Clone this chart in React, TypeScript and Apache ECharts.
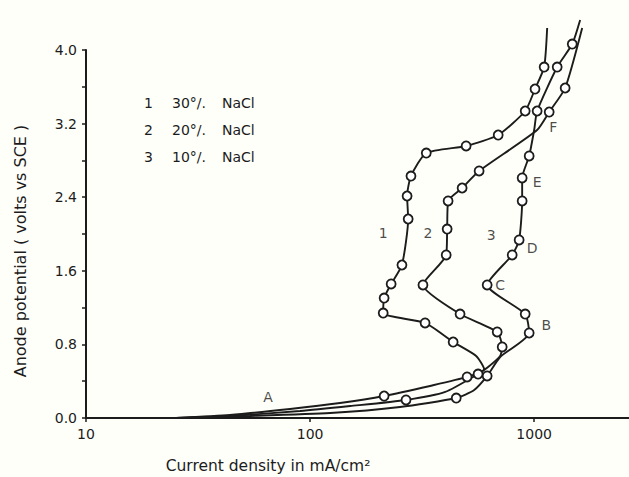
import React, { useEffect, useRef } from "react";
import * as echarts from "echarts";

// Curve 1: 30% NaCl (current density mA/cm2, potential V vs SCE); marked = measured point symbol
const c1X = [25.2, 43.9, 81.4, 136, 214, 343, 502, 598, 551, 435, 326, 212, 214, 230, 257, 274, 271, 282, 330, 497, 691, 912, 1009, 1108, 1143];
const c1Y = [0.0, 0.033, 0.098, 0.163, 0.239, 0.348, 0.446, 0.533, 0.674, 0.826, 1.033, 1.141, 1.304, 1.457, 1.663, 2.163, 2.413, 2.63, 2.88, 2.957, 3.076, 3.337, 3.576, 3.815, 4.239];
const c1M = [0, 0, 0, 0, 1, 0, 1, 0, 0, 1, 1, 1, 1, 1, 1, 1, 1, 1, 1, 1, 1, 1, 1, 1, 0];

// Curve 2: 20% NaCl
const c2X = [25.2, 43.9, 90.2, 151, 268, 401, 562, 623, 705, 720, 684, 467, 319, 405, 409, 413, 477, 568, 1031, 1167, 1375, 1638];
const c2Y = [0.0, 0.022, 0.076, 0.13, 0.196, 0.283, 0.478, 0.554, 0.674, 0.772, 0.935, 1.13, 1.446, 1.772, 2.054, 2.359, 2.5, 2.685, 3.13, 3.326, 3.587, 4.239];
const c2M = [0, 0, 0, 0, 1, 0, 1, 0, 0, 1, 1, 1, 1, 1, 1, 1, 1, 1, 0, 1, 1, 0];

// Curve 3: 10% NaCl
const c3X = [25.2, 54.0, 123, 252, 449, 540, 617, 705, 950, 912, 617, 798, 857, 884, 884, 950, 1000, 1031, 1267, 1479, 1604];
const c3Y = [0.0, 0.022, 0.054, 0.12, 0.217, 0.304, 0.457, 0.663, 0.924, 1.13, 1.446, 1.772, 1.935, 2.359, 2.609, 2.848, 3.13, 3.337, 3.815, 4.065, 4.326];
const c3M = [0, 0, 0, 0, 1, 0, 1, 0, 1, 1, 1, 1, 1, 1, 1, 1, 0, 1, 1, 1, 0];

// Point annotations (A–F) and curve numbers
const noteText = ["A", "B", "C", "D", "E", "F", "1", "2", "3"];
const noteX = [64.9, 1132, 705, 980, 1031, 1216, 212, 336, 643];
const noteY = [0.228, 1.01, 1.446, 1.848, 2.565, 3.163, 2.011, 2.011, 1.989];

// Legend entries
const legendNum = ["1", "2", "3"];
const legendPct = ["30°/.", "20°/.", "10°/."];
const legendSalt = ["NaCl", "NaCl", "NaCl"];

const yTicks = ["0.0", "0.8", "1.6", "2.4", "3.2", "4.0"];
const xTicks = [10, 100, 1000];
const xTitle = "Current density in mA/cm²";
const yTitle = "Anode potential ( volts vs SCE )";

const INK = "#1c1c1c";
const FONT = "DejaVu Sans";

function build(xs: number[], ys: number[], ms: number[]) {
  return xs.map((x, i) => ({
    value: [x, ys[i]],
    symbol: ms[i] ? "circle" : "none",
  }));
}

export default function App() {
  const ref = useRef<HTMLDivElement>(null);
  useEffect(() => {
    if (!ref.current) return;
    const chart = echarts.init(ref.current, null, { renderer: "svg" });
    const lineSeries = (name: string, data: any[]) => ({
      name,
      type: "line",
      data,
      smooth: 0.2,
      clip: false,
      symbolSize: 9,
      showAllSymbol: true,
      lineStyle: { color: INK, width: 1.9 },
      itemStyle: { color: "#ffffff", borderColor: INK, borderWidth: 1.8 },
      emphasis: { disabled: true },
      z: 3,
    });
    const txt = { fontSize: 14, fill: INK, fontFamily: FONT };
    chart.setOption({
      animation: false,
      backgroundColor: "#fffffa",
      textStyle: { fontFamily: FONT, color: INK },
      grid: { left: 86, right: 0, top: 50, bottom: 59, outerBoundsMode: "none" },
      xAxis: {
        type: "log",
        logBase: 10,
        min: 10,
        max: 2650,
        axisLine: { lineStyle: { color: INK, width: 2 } },
        axisTick: { show: true, length: 4, lineStyle: { color: INK, width: 1.5 } },
        axisLabel: {
          fontSize: 14,
          color: INK,
          margin: 9,
          showMaxLabel: false,
          formatter: (v: number) => {
            const r = Math.round(v);
            return xTicks.includes(r) ? String(r) : "";
          },
        },
        splitLine: { show: false },
        minorTick: { show: false },
      },
      yAxis: {
        type: "value",
        min: 0,
        max: 4,
        interval: 0.4,
        axisLine: { show: true, lineStyle: { color: INK, width: 2 } },
        axisTick: { show: true, length: 4, lineStyle: { color: INK, width: 1.5 } },
        axisLabel: {
          fontSize: 14,
          color: INK,
          margin: 9,
          formatter: (v: number) => {
            const s = v.toFixed(1);
            return yTicks.includes(s) ? s : "";
          },
        },
        splitLine: { show: false },
      },
      series: [
        lineSeries("1", build(c1X, c1Y, c1M)),
        lineSeries("2", build(c2X, c2Y, c2M)),
        lineSeries("3", build(c3X, c3Y, c3M)),
        {
          name: "notes",
          type: "scatter",
          symbolSize: 0,
          clip: false,
          data: noteX.map((x, i) => ({ value: [x, noteY[i]], name: noteText[i] })),
          label: {
            show: true,
            position: "inside",
            formatter: (p: any) => p.name,
            fontSize: 14,
            color: INK,
            fontFamily: FONT,
          },
          emphasis: { disabled: true },
          z: 4,
        },
      ],
      graphic: [
        ...legendNum.flatMap((n, i) => [
          { type: "text", x: 144, y: 103 + i * 27, style: { ...txt, text: n, verticalAlign: "middle" } },
          { type: "text", x: 172, y: 103 + i * 27, style: { ...txt, text: legendPct[i], verticalAlign: "middle" } },
          { type: "text", x: 222, y: 103 + i * 27, style: { ...txt, text: legendSalt[i], verticalAlign: "middle" } },
        ]),
        {
          type: "text",
          x: 268,
          y: 466,
          style: { ...txt, fontSize: 15.5, text: xTitle, align: "center", verticalAlign: "middle" },
        },
        {
          type: "text",
          x: 20,
          y: 251,
          rotation: Math.PI / 2,
          style: { ...txt, fontSize: 16, text: yTitle, align: "center", verticalAlign: "middle" },
        },
      ],
    });
    return () => chart.dispose();
  }, []);
  return (
    <div
      ref={ref}
      style={{ position: "absolute", left: 0, top: 0, width: 629, height: 477 }}
    />
  );
}
